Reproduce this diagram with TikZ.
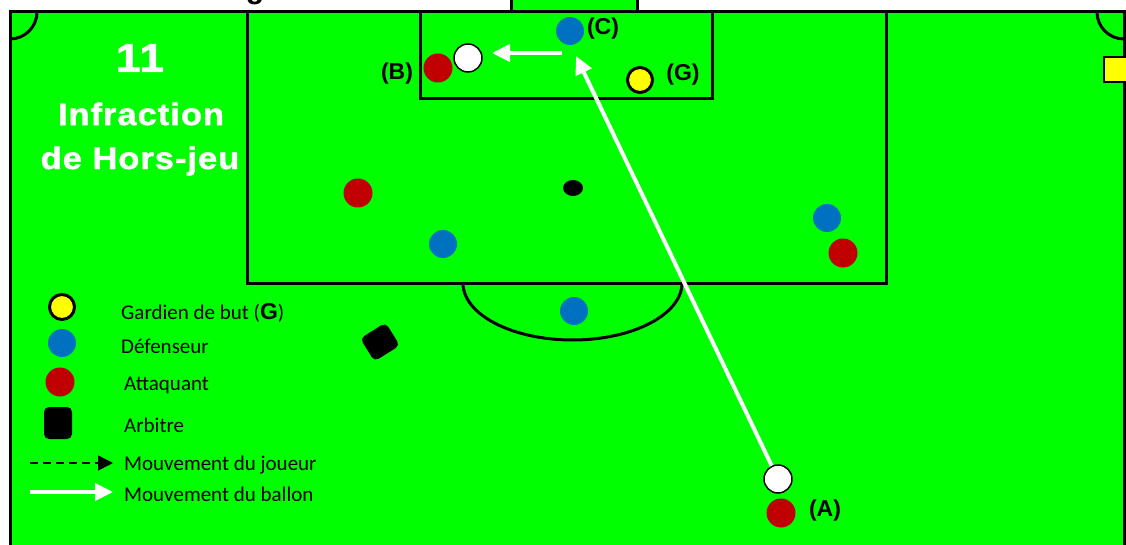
\documentclass[tikz,border=0pt]{standalone}
\usepackage{fontspec}
\setmainfont{Carlito}
\newfontfamily\arialfont{Liberation Sans}
\newfontfamily\titlefont{Liberation Sans}[LetterSpace=3,FakeBold=1.5]
\usetikzlibrary{arrows.meta}
\definecolor{pitch}{HTML}{00FF00}
\definecolor{attred}{HTML}{C00000}
\definecolor{defblue}{HTML}{0070C0}
\definecolor{gkyellow}{HTML}{FFFF00}
\newcommand{\widetitle}[1]{\scalebox{1.11}[1]{#1}}
\tikzset{
  fieldline/.style={line width=3pt, draw=black},
  attacker/.style={circle, inner sep=0pt, minimum size=29pt, fill=attred},
  defender/.style={circle, inner sep=0pt, minimum size=28pt, fill=defblue},
  keeper/.style={circle, inner sep=0pt, minimum size=25pt, fill=gkyellow, draw=black, line width=3pt},
  ballnode/.style={circle, inner sep=0pt, minimum size=28pt, fill=white, draw=black, line width=1.5pt},
  refbox/.style={rectangle, rounded corners=5pt, inner sep=0pt, fill=black},
  ballmove/.style={draw=white, line width=4pt, -{Triangle[length=18pt,width=17pt]}},
  playermove/.style={draw=black, line width=1.5pt, dash pattern=on 8pt off 5pt, -{Triangle[length=15pt,width=15pt]}},
  titletext/.style={text=white, font=\titlefont\bfseries\fontsize{31}{36}\selectfont, inner sep=0pt},
  tag/.style={text=black, font=\arialfont\bfseries\fontsize{23}{27}\selectfont, inner sep=0pt},
  legendtext/.style={anchor=west, text=black, font=\fontsize{21}{25}\selectfont, inner sep=0pt},
}
\begin{document}
\begin{tikzpicture}[x=1pt,y=-1pt]
\useasboundingbox (0,0) rectangle (1126,545);
\fill[white] (0,0) rectangle (1126,545);
% cut title
\node[anchor=base, text=black, font=\arialfont\bfseries\fontsize{30}{34}\selectfont, inner sep=0pt] (cuttitle) at (255,-1.5) {g};
% pitch
\fill[pitch] (10,12) rectangle (1135,560);
\fill[pitch] (511,-10) rectangle (637,12);
\draw[fieldline] (10,560) -- (10,12) -- (1124,12) -- (1124,560);
\draw[fieldline] (511,-10) -- (511,12);
\draw[fieldline] (637,-10) -- (637,12);
% corner arcs
\draw[fieldline] (37,12) arc[start angle=0,end angle=90,radius=27];
\draw[fieldline] (1097,12) arc[start angle=180,end angle=90,radius=27];
% penalty area, goal area
\draw[fieldline] (247,12) -- (247,283) -- (886,283) -- (886,12);
\draw[fieldline] (420,12) -- (420,99) -- (712,99) -- (712,12);
\draw[fieldline] (463,283) arc[start angle=180,end angle=0,x radius=109.5,y radius=57];
\fill[black] (573,188) ellipse[x radius=10, y radius=8];
% yellow flag marker
\draw[fill=gkyellow, draw=black, line width=1.5pt] (1104,57) rectangle (1135,82);
% title
\node[titletext, font=\titlefont\bfseries\fontsize{40}{44}\selectfont] (t11) at (140,58) {\widetitle{11}};
\node[titletext] (t2) at (141,114) {\widetitle{Infraction}};
\node[titletext] (t3) at (140,161) {\widetitle{de Hors-jeu}};
% players
\node[defender] (C) at (570,31) {};
\node[tag] (Clab) at (603,29) {(C)};
\node[attacker] (B) at (438,68) {};
\node[ballnode] (ballB) at (468,58) {};
\node[tag] (Blab) at (397,74) {(B)};
\node[keeper] (G) at (640,80) {};
\node[tag] (Glab) at (683,75) {(G)};
\node[attacker] (r1) at (358,193) {};
\node[defender] (b1) at (443,244) {};
\node[defender] (b2) at (827,218) {};
\node[attacker] (r2) at (843,253) {};
\node[defender] (b3) at (574,311) {};
\node[refbox, minimum width=30pt, minimum height=27pt, rotate=32] (ref) at (380,342) {};
\node[ballnode] (ballA) at (778,479) {};
\node[attacker] (A) at (781,513) {};
\node[tag] (Alab) at (825,511) {(A)};
% ball movements
\coordinate (tipC) at (576,56);
\draw[ballmove] (ballA) -- (tipC);
\coordinate (passS) at (562,53);
\coordinate (passE) at (492,53);
\draw[ballmove] (passS) -- (passE);
% legend
\node[keeper] (lg) at (62,307) {};
\node[legendtext] (lgt) at (121,313) {Gardien de but ({\arialfont\bfseries\fontsize{23}{25}\selectfont G})};
\node[defender] (ld) at (62,343) {};
\node[legendtext] (ldt) at (121,346) {Défenseur};
\node[attacker] (la) at (60,382) {};
\node[legendtext] (lat) at (124,385) {Attaquant};
\node[refbox, minimum width=28pt, minimum height=32pt] (lr) at (58,423) {};
\node[legendtext] (lrt) at (124,425) {Arbitre};
\coordinate (lpS) at (30,463);
\coordinate (lpE) at (113,463);
\draw[playermove] (lpS) -- (lpE);
\node[legendtext] (lpt) at (124,465) {Mouvement du joueur};
\coordinate (lbS) at (30,492);
\coordinate (lbE) at (113,492);
\draw[ballmove] (lbS) -- (lbE);
\node[legendtext] (lbt) at (124,494) {Mouvement du ballon};
\end{tikzpicture}
\end{document}
